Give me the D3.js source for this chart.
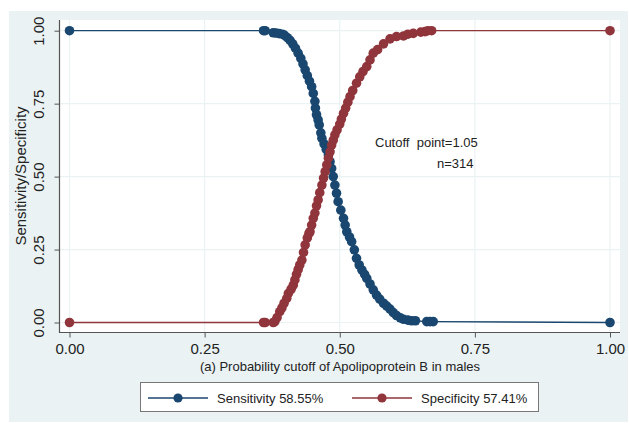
<!DOCTYPE html>
<html>
<head>
<meta charset="utf-8">
<script src="https://cdnjs.cloudflare.com/ajax/libs/d3/7.8.5/d3.min.js"></script>
<style>
  body { margin: 0; background: #fff; }
  svg { display: block; font-family: "Liberation Sans", Arial, sans-serif; }
</style>
</head>
<body>
<svg id="chart" width="629" height="423"></svg>
<script>
// cutoff values and sensitivity
const sensCut = [0.000, 0.359, 0.362, 0.377, 0.382, 0.388, 0.394, 0.398, 0.403, 0.408, 0.413, 0.418,
  0.423, 0.428, 0.432, 0.436, 0.440, 0.444, 0.448, 0.451, 0.454, 0.455, 0.457, 0.460, 0.462, 0.465,
  0.467, 0.471, 0.475, 0.479, 0.482, 0.485, 0.488, 0.491, 0.494, 0.497, 0.502, 0.507, 0.510, 0.513,
  0.518, 0.522, 0.527, 0.531, 0.536, 0.541, 0.546, 0.550, 0.556, 0.562, 0.568, 0.574, 0.581, 0.587,
  0.593, 0.599, 0.605, 0.612, 0.618, 0.626, 0.633, 0.640, 0.661, 0.667, 0.673, 1.000];
const sensVal = [1.000, 1.000, 1.000, 0.993, 0.992, 0.990, 0.988, 0.984, 0.976, 0.967, 0.955, 0.940,
  0.923, 0.905, 0.886, 0.866, 0.846, 0.827, 0.808, 0.785, 0.758, 0.735, 0.712, 0.694, 0.677, 0.650,
  0.631, 0.612, 0.593, 0.574, 0.551, 0.528, 0.500, 0.471, 0.443, 0.414, 0.385, 0.357, 0.334, 0.311,
  0.293, 0.277, 0.249, 0.220, 0.197, 0.180, 0.165, 0.151, 0.132, 0.112, 0.094, 0.080, 0.066, 0.056,
  0.046, 0.034, 0.024, 0.016, 0.011, 0.008, 0.006, 0.006, 0.003, 0.003, 0.003, 0.000];

// cutoff values and specificity
const specCut = [0.000, 0.359, 0.362, 0.377, 0.380, 0.384, 0.389, 0.393, 0.397, 0.402, 0.405, 0.410,
  0.414, 0.417, 0.420, 0.423, 0.426, 0.430, 0.433, 0.436, 0.440, 0.443, 0.445, 0.448, 0.451, 0.454,
  0.457, 0.460, 0.463, 0.467, 0.470, 0.473, 0.476, 0.479, 0.482, 0.485, 0.488, 0.491, 0.495, 0.500,
  0.503, 0.507, 0.511, 0.515, 0.519, 0.524, 0.531, 0.537, 0.543, 0.550, 0.556, 0.562, 0.570, 0.581,
  0.593, 0.605, 0.618, 0.626, 0.636, 0.650, 0.658, 0.663, 0.670, 1.000];
const specVal = [0.000, 0.000, 0.000, 0.000, 0.003, 0.017, 0.037, 0.050, 0.066, 0.083, 0.100, 0.114,
  0.128, 0.146, 0.165, 0.181, 0.197, 0.214, 0.240, 0.266, 0.290, 0.305, 0.311, 0.334, 0.357, 0.375,
  0.400, 0.420, 0.445, 0.471, 0.495, 0.517, 0.540, 0.563, 0.585, 0.608, 0.625, 0.643, 0.660, 0.680,
  0.697, 0.717, 0.735, 0.755, 0.774, 0.795, 0.820, 0.842, 0.860, 0.877, 0.900, 0.923, 0.935, 0.955,
  0.972, 0.980, 0.982, 0.988, 0.991, 0.995, 0.997, 1.000, 1.000, 1.000];

const tickVals = [0, 0.25, 0.5, 0.75, 1];
const seriesNames = ["Sensitivity 58.55%", "Specificity 57.41%"];
const noteLines = ["Cutoff  point=1.05", "n=314"];

const navy = "#1a476f", maroon = "#90353b", bg = "#eaf2f3";

const svg = d3.select("#chart");

// outer graph region
svg.append("rect").attr("x", 9).attr("y", 11).attr("width", 619).attr("height", 411).attr("fill", bg);
// plot region
svg.append("rect").attr("x", 60).attr("y", 20).attr("width", 560).attr("height", 313).attr("fill", "#fff");

const x = d3.scaleLinear().domain([0, 1]).range([69.5, 610]);
const y = d3.scaleLinear().domain([0, 1]).range([322.5, 30.7]);

// grid
svg.append("g").selectAll("line").data(tickVals).enter().append("line")
  .attr("x1", 60).attr("x2", 620)
  .attr("y1", d => y(d)).attr("y2", d => y(d))
  .attr("stroke", bg).attr("stroke-width", 1.2);
svg.append("g").selectAll("line").data(tickVals).enter().append("line")
  .attr("y1", 20).attr("y2", 333)
  .attr("x1", d => x(d)).attr("x2", d => x(d))
  .attr("stroke", bg).attr("stroke-width", 1.2);

// axes
const yAxis = svg.append("g").attr("transform", "translate(59.5,0)")
  .call(d3.axisLeft(y).tickValues(tickVals).tickFormat(d3.format(".2f")).tickSize(5).tickSizeOuter(0));
yAxis.select(".domain").remove();
yAxis.selectAll("text")
  .attr("x", null).attr("dy", null)
  .attr("transform", "translate(-19,0) rotate(-90)")
  .attr("text-anchor", "middle").attr("dominant-baseline", "middle")
  .attr("font-size", 15).attr("fill", "#222");

const xAxis = svg.append("g").attr("transform", "translate(0,332.5)")
  .call(d3.axisBottom(x).tickValues(tickVals).tickFormat(d3.format(".2f")).tickSize(5).tickSizeOuter(0));
xAxis.select(".domain").remove();
xAxis.selectAll("text").attr("y", 11).attr("font-size", 15).attr("fill", "#222");

svg.selectAll(".tick line").attr("stroke", "#555");

svg.append("line").attr("x1", 59.5).attr("x2", 59.5).attr("y1", 20).attr("y2", 333)
  .attr("stroke", "#555").attr("stroke-width", 1.2);
svg.append("line").attr("x1", 59.5).attr("x2", 620).attr("y1", 332.5).attr("y2", 332.5)
  .attr("stroke", "#555").attr("stroke-width", 1.2);

// axis titles
svg.append("text").attr("transform", "translate(22,176) rotate(-90)")
  .attr("text-anchor", "middle").attr("dominant-baseline", "middle")
  .attr("font-size", 15).attr("fill", "#222").text("Sensitivity/Specificity");
svg.append("text").attr("x", 340).attr("y", 371).attr("text-anchor", "middle")
  .attr("font-size", 13).attr("fill", "#222").text("(a) Probability cutoff of Apolipoprotein B in males");

// series
function drawSeries(cuts, vals, color) {
  const pts = cuts.map((c, i) => [c, vals[i]]);
  const line = d3.line().x(d => x(d[0])).y(d => y(d[1]));
  const g = svg.append("g");
  g.append("path").datum(pts).attr("d", line)
    .attr("fill", "none").attr("stroke", color).attr("stroke-width", 1.3);
  g.selectAll("circle").data(pts).enter().append("circle")
    .attr("cx", d => x(d[0])).attr("cy", d => y(d[1])).attr("r", 4.8)
    .attr("fill", color);
}
drawSeries(sensCut, sensVal, navy);
drawSeries(specCut, specVal, maroon);

// annotation
svg.append("text").attr("x", 375).attr("y", 147).attr("font-size", 13).attr("fill", "#222")
  .attr("xml:space", "preserve").style("white-space", "pre").text(noteLines[0]);
svg.append("text").attr("x", 437).attr("y", 168).attr("font-size", 13).attr("fill", "#222").text(noteLines[1]);

// legend
svg.append("rect").attr("x", 140.5).attr("y", 382.5).attr("width", 398).attr("height", 29)
  .attr("fill", "#fff").attr("stroke", "#777").attr("stroke-width", 1);
const legItems = [{ name: seriesNames[0], color: navy, x0: 148 }, { name: seriesNames[1], color: maroon, x0: 352 }];
const leg = svg.append("g").selectAll("g").data(legItems).enter().append("g")
  .attr("transform", d => `translate(${d.x0},398)`);
leg.append("line").attr("x1", 0).attr("x2", 60).attr("stroke", d => d.color).attr("stroke-width", 1.3);
leg.append("circle").attr("cx", 30).attr("r", 4.6).attr("fill", d => d.color);
leg.append("text").attr("x", 69).attr("dy", "0.35em").attr("font-size", 13).attr("fill", "#222")
  .text(d => d.name);
</script>
</body>
</html>
